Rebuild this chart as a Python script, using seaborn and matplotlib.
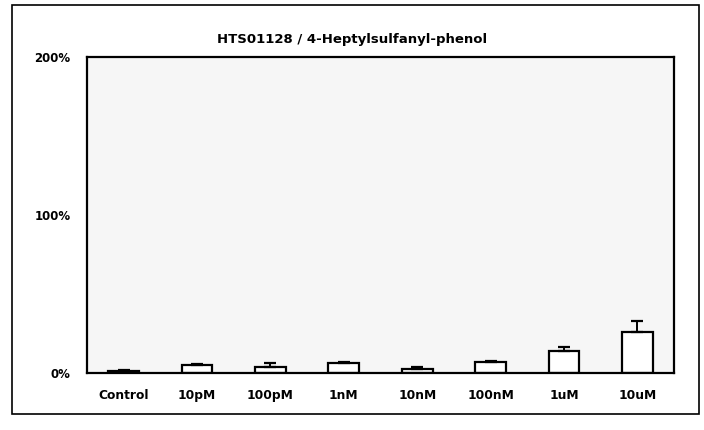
import numpy as np
import pandas as pd
import matplotlib
matplotlib.use('Agg')
import matplotlib.pyplot as plt
import seaborn as sns
from matplotlib.patches import Rectangle

# values (percent of control)
categories = ['Control', '10pM', '100pM', '1nM', '10nM', '100nM', '1uM', '10uM']
means = [1.2, 4.5, 3.4, 6.2, 2.5, 6.8, 13.4, 25.7]
errors = [0.3, 1.0, 2.5, 0.5, 1.0, 0.4, 2.7, 6.8]
y_ticks = [0, 100, 200]
y_tick_labels = ['0%', '100%', '200%']
title = 'HTS01128 / 4-Heptylsulfanyl-phenol'

df = pd.DataFrame({'dose': categories, 'value': means})

sns.set_style('white')
plt.rcParams['font.family'] = ['DejaVu Sans']
plt.rcParams['text.color'] = 'black'
plt.rcParams['xtick.color'] = 'black'
plt.rcParams['ytick.color'] = 'black'

fig = plt.figure(figsize=(7.04, 4.30), dpi=100)
ax = fig.add_axes([0.1236, 0.1337, 0.8338, 0.7337])
ax.set_facecolor('#f6f6f6')

sns.barplot(data=df, x='dose', y='value', color='white', edgecolor='black',
            linewidth=1.6, width=0.42, ax=ax, errorbar=None)

# upper error bars only
x = np.arange(len(categories))
ax.errorbar(x, means, yerr=[np.zeros(len(errors)), errors], fmt='none',
            ecolor='black', elinewidth=1.4, capsize=4, capthick=1.6)

ax.set_ylim(0, 200)
ax.set_xlim(-0.5, len(categories) - 0.5)
ax.set_yticks(y_ticks)
ax.set_yticklabels(y_tick_labels, fontsize=8.5, fontweight='bold', color='black')
ax.set_xticks(x)
ax.set_xticklabels(categories, fontsize=8.8, fontweight='bold', color='black')
ax.set_xticks(np.arange(len(categories) + 1) - 0.5, minor=True)
ax.tick_params(axis='x', which='major', length=0, pad=12)
ax.tick_params(axis='x', which='minor', direction='in', length=4, width=1.2)
ax.tick_params(axis='y', which='major', direction='in', length=4, width=1.2, pad=12)
ax.set_xlabel('')
ax.set_ylabel('')
for s in ax.spines.values():
    s.set_visible(True)
    s.set_color('black')
    s.set_linewidth(1.6)

fig.text(0.5, 0.907, title, ha='center', va='center', fontsize=9.5,
         fontweight='bold', color='black')

# outer chart frame
fig.patches.append(Rectangle((0.017, 0.037), 0.976, 0.951, transform=fig.transFigure,
                             fill=False, edgecolor='black', linewidth=1.2))

fig.savefig('out.png', dpi=100)
